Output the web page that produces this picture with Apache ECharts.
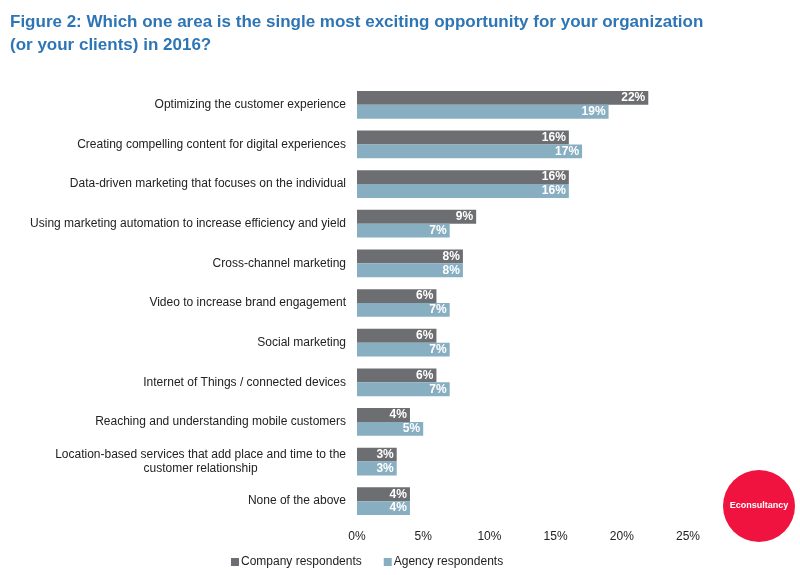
<!DOCTYPE html>
<html>
<head>
<meta charset="utf-8">
<script src="https://cdn.jsdelivr.net/npm/echarts@6/dist/echarts.min.js"></script>
<style>
  html, body { margin: 0; padding: 0; background: #fff; }
  #main { width: 800px; height: 575px; }
</style>
</head>
<body>
<div id="main"></div>
<script>
// categories, top to bottom
const categories = [
  'Optimizing the customer experience',
  'Creating compelling content for digital experiences',
  'Data-driven marketing that focuses on the individual',
  'Using marketing automation to increase efficiency and yield',
  'Cross-channel marketing',
  'Video to increase brand engagement',
  'Social marketing',
  'Internet of Things / connected devices',
  'Reaching and understanding mobile customers',
  'Location-based services that add place and time to the\ncustomer relationship',
  'None of the above'
];
const company = [22, 16, 16, 9, 8, 6, 6, 6, 4, 3, 4];
const agency = [19, 17, 16, 7, 8, 7, 7, 7, 5, 3, 4];
const seriesNames = ['Company respondents', 'Agency respondents'];
const xTicks = [0, 5, 10, 15, 20, 25];

const chart = echarts.init(document.getElementById('main'));

const labelStyle = {
  show: true,
  position: 'insideRight',
  distance: 3,
  color: '#fff',
  fontWeight: 'bold',
  fontSize: 12,
  fontFamily: 'Liberation Sans, Arial, sans-serif',
  formatter: '{c}%'
};

// two-line labels: lines centred on each other, block right-aligned
function catLabel(v) {
  const lines = v.split('\n');
  if (lines.length === 1) return v;
  return lines.map(l => '{c|' + l + '}').join('\n');
}

const option = {
  animation: false,
  textStyle: { fontFamily: 'Liberation Sans, Arial, sans-serif' },
  title: {
    text: 'Figure 2: Which one area is the single most exciting opportunity for your organization\n(or your clients) in 2016?',
    left: 5,
    top: 6,
    textStyle: {
      color: '#2E75B6',
      fontSize: 17,
      fontWeight: 'bold',
      lineHeight: 23,
      fontFamily: 'Liberation Sans Narrow, Liberation Sans, Arial, sans-serif'
    }
  },
  legend: {
    data: seriesNames,
    left: 226,
    top: 551,
    itemWidth: 8,
    itemHeight: 8,
    itemGap: 22,
    icon: 'rect',
    textStyle: { color: '#222', fontSize: 12, padding: [0, 0, 0, -3] }
  },
  grid: {
    left: 357,
    right: 112,
    top: 85,
    bottom: 54
  },
  xAxis: {
    type: 'value',
    min: 0,
    max: 25,
    interval: 5,
    axisLine: { show: false },
    axisTick: { show: false },
    splitLine: { show: false },
    axisLabel: {
      color: '#222',
      fontSize: 12,
      margin: 10,
      formatter: v => xTicks.includes(v) ? v + '%' : ''
    }
  },
  yAxis: {
    type: 'category',
    data: categories,
    inverse: true,
    axisLine: { show: false },
    axisTick: { show: false },
    axisLabel: {
      color: '#222',
      fontSize: 12,
      margin: 11,
      lineHeight: 14,
      align: 'right',
      formatter: catLabel,
      rich: {
        c: { align: 'center', fontSize: 12, lineHeight: 14, color: '#222' }
      }
    }
  },
  series: [
    {
      name: seriesNames[0],
      type: 'bar',
      data: company,
      barGap: '0%',
      barCategoryGap: '30%',
      itemStyle: { color: '#6D6E71' },
      label: labelStyle
    },
    {
      name: seriesNames[1],
      type: 'bar',
      data: agency,
      itemStyle: { color: '#88AFC1' },
      label: labelStyle
    }
  ],
  graphic: [
    {
      type: 'circle',
      shape: { cx: 759, cy: 506, r: 36 },
      style: { fill: '#F0133F' }
    },
    {
      type: 'text',
      x: 759,
      y: 506,
      style: {
        text: 'Econsultancy',
        fill: '#fff',
        fontSize: 9,
        fontWeight: 'bold',
        fontFamily: 'Liberation Sans, Arial, sans-serif',
        align: 'center',
        verticalAlign: 'middle'
      }
    }
  ]
};

chart.setOption(option);
</script>
</body>
</html>
